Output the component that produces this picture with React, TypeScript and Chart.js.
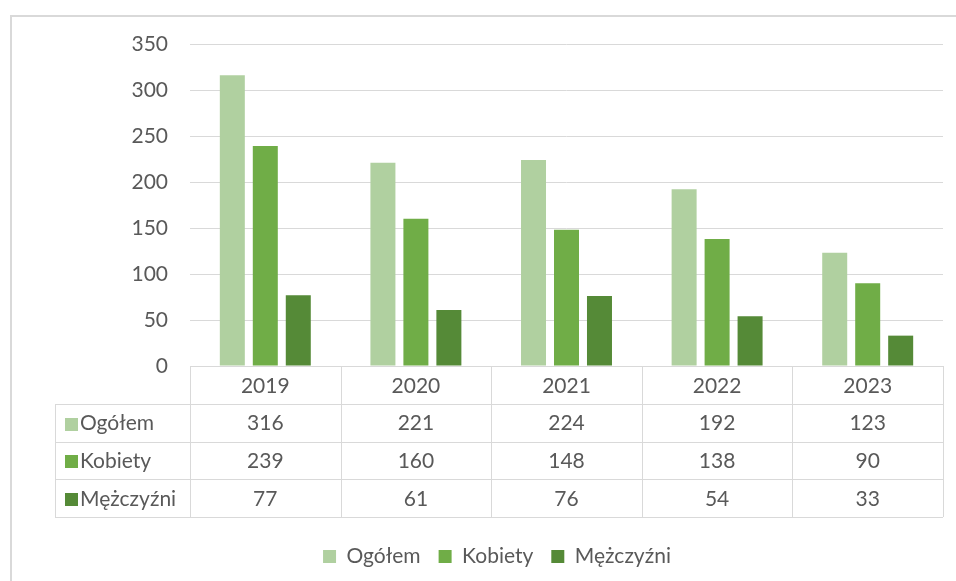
import React, { useEffect, useRef } from "react";
import { Chart, registerables } from "chart.js";

Chart.register(...registerables);

const years = ["2019", "2020", "2021", "2022", "2023"];
const seriesNames = ["Ogółem", "Kobiety", "Mężczyźni"];
const ogolem = [316, 221, 224, 192, 123];
const kobiety = [239, 160, 148, 138, 90];
const mezczyzni = [77, 61, 76, 54, 33];
const colors = ["#b0d0a0", "#70ad47", "#558a37"];
const yTicksMax = 350;
const yStep = 50;

const FONT = "Lato";
const FS = 21;
const TEXT = "#595959";
const GRID = "#d9d9d9";

const framePlugin = {
  id: "frame",
  beforeDraw(chart: any) {
    const ctx = chart.ctx;
    ctx.save();
    ctx.fillStyle = "#ffffff";
    ctx.fillRect(0, 0, chart.width, chart.height);
    ctx.strokeStyle = GRID;
    ctx.lineWidth = 2;
    ctx.beginPath();
    ctx.moveTo(11, chart.height);
    ctx.lineTo(11, 16);
    ctx.lineTo(chart.width, 16);
    ctx.stroke();
    ctx.restore();
  },
};

const tablePlugin = {
  id: "dataTable",
  afterDraw(chart: any) {
    const ctx = chart.ctx;
    const x = chart.scales.x;
    const area = chart.chartArea;
    const rows = [ogolem, kobiety, mezczyzni];
    const rowH = 37.75;
    const top = area.bottom;
    const tableLeft = 55;
    const colW = (area.right - area.left) / years.length;
    ctx.save();
    ctx.strokeStyle = GRID;
    ctx.lineWidth = 1;
    ctx.beginPath();
    ctx.moveTo(area.left, Math.round(top) + 0.5);
    ctx.lineTo(area.right, Math.round(top) + 0.5);
    for (let r = 1; r <= rows.length + 1; r++) {
      const y = Math.round(top + r * rowH) + 0.5;
      ctx.moveTo(tableLeft, y);
      ctx.lineTo(area.right, y);
    }
    const bottom = Math.round(top + (rows.length + 1) * rowH);
    ctx.moveTo(tableLeft + 0.5, Math.round(top + rowH));
    ctx.lineTo(tableLeft + 0.5, bottom);
    for (let c = 0; c <= years.length; c++) {
      const xx = Math.round(area.left + c * colW) + 0.5;
      ctx.moveTo(xx, top);
      ctx.lineTo(xx, bottom);
    }
    ctx.stroke();

    ctx.fillStyle = TEXT;
    ctx.font = `${FS}px ${FONT}`;
    ctx.textAlign = "center";
    ctx.textBaseline = "middle";
    years.forEach((yr, i) => {
      ctx.fillText(yr, x.getPixelForValue(i), top + rowH / 2 + 1);
    });
    rows.forEach((vals, r) => {
      const cy = top + (r + 1) * rowH + rowH / 2 + 1;
      vals.forEach((v, i) => {
        ctx.fillStyle = TEXT;
        ctx.textAlign = "center";
        ctx.fillText(String(v), x.getPixelForValue(i), cy);
      });
      ctx.fillStyle = colors[r];
      ctx.fillRect(65, Math.round(cy - 6), 13, 13);
      ctx.fillStyle = TEXT;
      ctx.textAlign = "left";
      ctx.fillText(seriesNames[r], 80, cy);
    });
    ctx.restore();
  },
};

export default function App() {
  const ref = useRef<HTMLCanvasElement>(null);
  useEffect(() => {
    const canvas = ref.current;
    if (!canvas) return;
    const chart = new Chart(canvas, {
      type: "bar",
      data: {
        labels: years,
        datasets: [
          { label: seriesNames[0], data: ogolem, backgroundColor: colors[0] },
          { label: seriesNames[1], data: kobiety, backgroundColor: colors[1] },
          { label: seriesNames[2], data: mezczyzni, backgroundColor: colors[2] },
        ],
      },
      options: {
        responsive: false,
        animation: false,
        devicePixelRatio: 1,
        layout: { padding: { left: 51, right: 13, top: 44, bottom: 4 } },
        datasets: { bar: { categoryPercentage: 0.657, barPercentage: 0.758 } },
        plugins: {
          tooltip: { enabled: false },
          legend: {
            position: "bottom",
            labels: {
              boxWidth: 13,
              boxHeight: 13,
              padding: 18,
              color: TEXT,
              font: { family: FONT, size: FS },
            },
          },
        },
        scales: {
          x: {
            grid: { display: false },
            border: { display: false },
            ticks: { display: false },
            afterFit: (scale: any) => {
              scale.height = 162;
            },
          },
          y: {
            min: 0,
            max: yTicksMax,
            ticks: {
              stepSize: yStep,
              color: TEXT,
              font: { family: FONT, size: FS },
              padding: 22,
            },
            grid: { color: GRID, drawTicks: false },
            border: { display: false },
            afterFit: (scale: any) => {
              scale.width = 139;
            },
          },
        },
      },
      plugins: [framePlugin, tablePlugin],
    });
    return () => chart.destroy();
  }, []);
  return (
    <div style={{ position: "fixed", left: 0, top: 0, width: 956, height: 581 }}>
      <canvas ref={ref} width={956} height={581} />
    </div>
  );
}
